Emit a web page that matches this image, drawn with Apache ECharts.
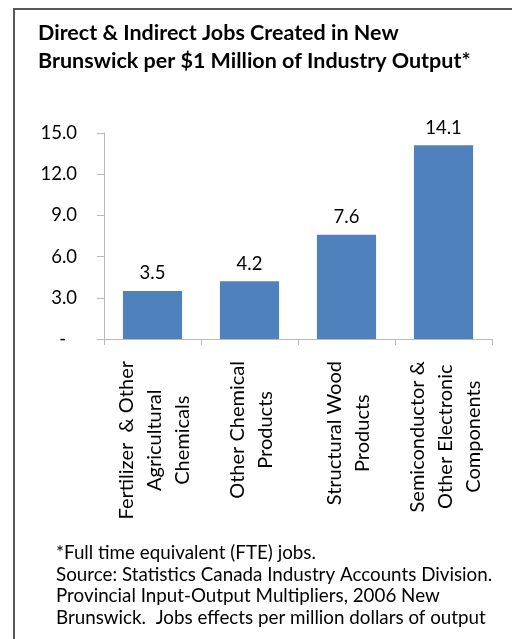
<!DOCTYPE html>
<html><head><meta charset="utf-8">
<script src="https://cdn.jsdelivr.net/npm/echarts@6/dist/echarts.min.js"></script>
<style>html,body{margin:0;padding:0;background:#fff}#c{width:512px;height:639px}</style>
</head><body><div id="c"></div>
<script>
const categories = [
  ['Fertilizer  & Other', 'Agricultural', 'Chemicals'],
  ['Other Chemical', 'Products'],
  ['Structural Wood', 'Products'],
  ['Semiconductor &', 'Other Electronic', 'Components']
];
const jobs = [3.5, 4.2, 7.6, 14.1];
const yTicks = [0, 3, 6, 9, 12, 15];
const titleLines = ['Direct & Indirect Jobs Created in New', 'Brunswick per $1 Million of Industry Output*'];
const footLines = [
  '*Full time equivalent (FTE) jobs.',
  'Source: Statistics Canada Industry Accounts Division.',
  'Provincial Input-Output Multipliers, 2006 New',
  'Brunswick.  Jobs effects per million dollars of output'
];
const FONT = 'Lato, "Open Sans", sans-serif';
const chart = echarts.init(document.getElementById('c'), null, {renderer: 'canvas'});
const catNames = categories.map(c => c.join('\n'));
chart.setOption({
  animation: false,
  title: {
    text: titleLines.join('\n'), left: 33, top: 14,
    textStyle: {fontFamily: FONT, fontWeight: 'bold', fontSize: 21.5, lineHeight: 28, color: '#000'}
  },
  grid: {left: 104, right: 20, top: 133, bottom: 300, containLabel: false},
  xAxis: {
    type: 'category', data: catNames,
    axisLine: {lineStyle: {color: '#bababa'}},
    axisTick: {show: true, length: 6, lineStyle: {color: '#bababa'}},
    axisLabel: {
      rotate: 90, margin: 22, interval: 0, padding: [5, 0, 0, 0],
      fontFamily: FONT, fontSize: 20, color: '#000', lineHeight: 28,
      formatter: v => v.split('\n').map(s => '{c|' + s + '}').join('\n'),
      rich: {c: {align: 'center', fontFamily: FONT, fontSize: 20, lineHeight: 28, color: '#000'}}
    }
  },
  yAxis: {
    type: 'value', min: yTicks[0], max: yTicks[yTicks.length - 1], interval: 3,
    splitLine: {show: false},
    axisLine: {show: true, lineStyle: {color: '#bababa'}},
    axisTick: {show: true, length: 7, lineStyle: {color: '#bababa'}},
    axisLabel: {
      margin: 27, fontFamily: FONT, fontSize: 18.5, color: '#000',
      formatter: v => v === 0 ? '{d|-}' : v.toFixed(1),
      rich: {d: {padding: [0, 11, 0, 0], fontFamily: FONT, fontSize: 18.5, color: '#000'}}
    }
  },
  series: [{
    type: 'bar', data: jobs, barCategoryGap: '39%',
    itemStyle: {color: '#4f81bd'},
    label: {show: true, position: 'top', distance: 8, fontFamily: FONT, fontSize: 18.5, color: '#000',
      formatter: p => p.value.toFixed(1)}
  }],
  graphic: [
    {type: 'rect', shape: {x: 14, y: 9, width: 520, height: 660}, style: {fill: 'none', stroke: '#595959', lineWidth: 2}, silent: true},
    ...footLines.map((t, i) => ({
      type: 'text', x: 56, y: 553 + i * 21.6,
      style: {text: t, fontFamily: FONT, fontSize: 18.8, fill: '#000', verticalAlign: 'middle', align: 'left'}
    }))
  ]
});
</script></body></html>
